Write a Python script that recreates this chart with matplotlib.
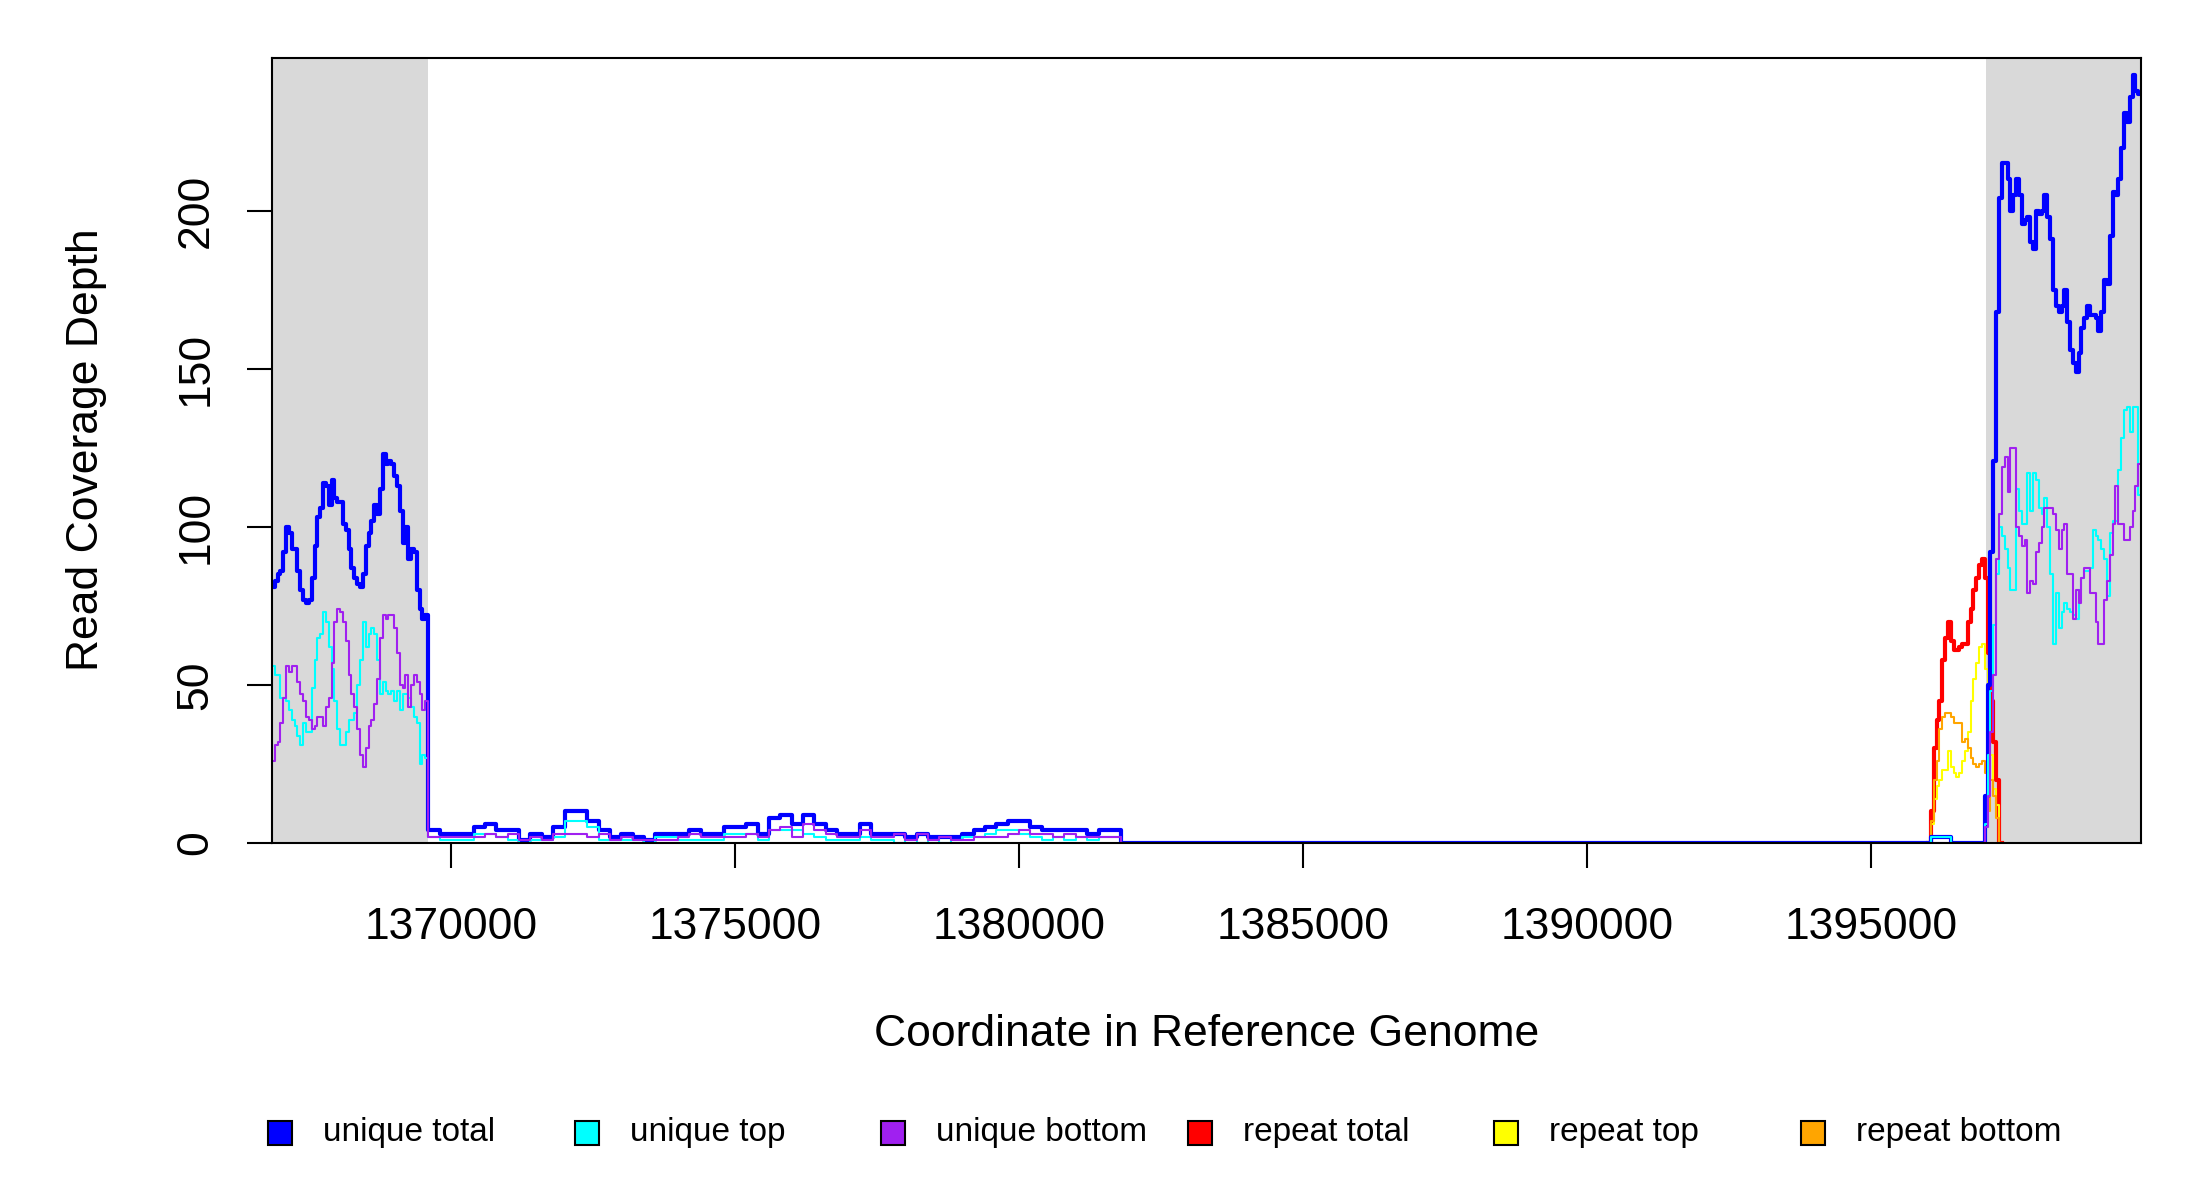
import numpy as np
import matplotlib.pyplot as plt
from matplotlib.patches import Rectangle

plt.rcParams['font.family'] = ['Liberation Sans', 'DejaVu Sans']

# =====================================================
# DATA
# =====================================================
X_MIN, X_MAX = 1366850, 1399750
Y_MAX = 248.5
SHADE_LEFT = (1366850, 1369595)
SHADE_RIGHT = (1397025, 1399750)
X_TICKS = [1370000, 1375000, 1380000, 1385000, 1390000, 1395000]
Y_TICKS = [0, 50, 100, 150, 200]

# left block: 50 bp bins
left_start, left_step = 1366850, 50
left_unique_total = [81, 83, 85, 86, 92, 100, 98, 93, 93, 86, 80, 77, 76, 77, 84,
                     94, 103, 106, 114, 113, 107, 115, 109, 108, 108, 101, 99, 93,
                     87, 84, 82, 81, 85, 94, 98, 102, 107, 104, 112, 123, 120, 121,
                     120, 116, 113, 105, 95, 100, 90, 93, 92, 80, 74, 71, 72]
left_unique_top = [56, 53, 53, 46, 46, 45, 42, 39, 37, 34, 31, 38, 35, 35, 49, 58,
                   65, 66, 73, 70, 62, 55, 45, 36, 31, 31, 35, 39, 39, 41, 50, 58,
                   70, 62, 66, 68, 66, 58, 47, 51, 48, 47, 48, 45, 48, 42, 47, 47,
                   46, 43, 40, 38, 25, 28, 27]
left_unique_bottom = [26, 31, 32, 38, 46, 56, 54, 56, 56, 51, 47, 45, 40, 39, 36,
                      37, 40, 40, 37, 43, 46, 57, 70, 74, 73, 70, 64, 53, 47, 43,
                      36, 28, 24, 30, 37, 39, 44, 52, 65, 72, 71, 72, 72, 68, 60,
                      50, 49, 53, 43, 50, 53, 51, 47, 42, 45]

# middle block: 200 bp bins, low coverage
mid_start, mid_step = 1369600, 200
mid_unique_total = [4, 3, 3, 3, 5, 6, 4, 4, 1, 3, 2, 5, 10, 10, 7, 4, 2, 3, 2, 1,
                    3, 3, 3, 4, 3, 3, 5, 5, 6, 3, 8, 9, 6, 9, 6, 4, 3, 3, 6, 3,
                    3, 3, 2, 3, 2, 2, 2, 3, 4, 5, 6, 7, 7, 5, 4, 4, 4, 4, 3, 4, 4]
mid_unique_top = [2, 1, 1, 1, 3, 3, 2, 1, 0, 1, 1, 2, 7, 7, 5, 1, 1, 1, 1, 0,
                  2, 2, 1, 1, 1, 1, 3, 3, 3, 1, 4, 4, 4, 3, 2, 1, 1, 1, 2, 1,
                  1, 0, 1, 0, 1, 0, 1, 2, 2, 3, 4, 4, 3, 2, 1, 2, 1, 2, 1, 2, 2]
mid_unique_bottom = [2, 2, 2, 2, 2, 3, 2, 3, 1, 2, 1, 3, 3, 3, 2, 3, 1, 2, 1, 1,
                     1, 1, 2, 3, 2, 2, 2, 2, 3, 2, 4, 5, 2, 6, 4, 3, 2, 2, 4, 2,
                     2, 3, 1, 3, 1, 2, 1, 1, 2, 2, 2, 3, 4, 3, 3, 2, 3, 2, 2, 2, 2]

# empty stretch between the blocks
gap_start, gap_end = 1381800, 1396000

# right block: 50 bp bins
right_start, right_step = 1396000, 50
right_unique_total = [0, 2, 2, 2, 2, 2, 2, 2, 0, 0, 0, 0, 0, 0, 0, 0, 0, 0, 0, 0,
                      15, 50, 92, 121, 168, 204, 215, 215, 210, 200, 205, 210, 205,
                      196, 197, 198, 190, 188, 200, 199, 200, 205, 198, 191, 175,
                      170, 168, 170, 175, 165, 156, 152, 149, 155, 163, 166, 170,
                      167, 167, 166, 162, 168, 178, 177, 192, 206, 205, 210, 220,
                      231, 228, 236, 243, 238, 237]
right_unique_top = [0, 2, 2, 2, 2, 2, 2, 2, 0, 0, 0, 0, 0, 0, 0, 0, 0, 0, 0, 0,
                    6, 28, 48, 69, 85, 100, 97, 93, 87, 80, 80, 112, 105, 101, 101,
                    117, 105, 117, 115, 106, 104, 109, 100, 85, 63, 79, 68, 73, 76,
                    74, 73, 72, 71, 80, 84, 86, 86, 87, 99, 97, 96, 93, 90, 78, 98,
                    102, 102, 118, 128, 137, 138, 130, 138, 138, 110]
right_unique_bottom = [0, 0, 0, 0, 0, 0, 0, 0, 0, 0, 0, 0, 0, 0, 0, 0, 0, 0, 0, 0,
                       5, 15, 35, 53, 90, 104, 119, 122, 111, 125, 125, 100, 97, 94,
                       96, 79, 83, 82, 92, 95, 100, 106, 106, 106, 104, 99, 93, 99,
                       101, 85, 85, 71, 80, 76, 84, 87, 87, 79, 79, 70, 63, 63, 77,
                       83, 91, 101, 113, 101, 101, 96, 96, 100, 105, 113, 120]
right_repeat_total = [0, 10, 30, 39, 45, 58, 65, 70, 64, 61, 61, 62, 63, 63, 70, 74,
                      80, 84, 88, 90, 84, 60, 45, 32, 20] + [0] * 50
right_repeat_top = [0, 6, 14, 18, 20, 23, 23, 29, 24, 22, 21, 22, 26, 29, 35, 45,
                    52, 57, 62, 63, 55, 35, 28, 17, 12] + [0] * 50
right_repeat_bottom = [0, 7, 20, 26, 36, 40, 41, 41, 40, 38, 38, 38, 32, 33, 30, 27,
                       25, 24, 25, 26, 22, 10, 20, 15, 8] + [0] * 50
REPEAT_TAIL = 25  # first bin of the flat zero tail after the repeat spike

# repeat reads are zero across the left and middle blocks
left_repeat = [0] * len(left_unique_total)
mid_repeat = [0] * len(mid_unique_total)


def edges(start, step, n):
    return start + step * np.arange(n + 1)


def step_xy(blocks):
    xs, ys = [], []
    for e, v in blocks:
        xs.append(e[:-1])
        ys.append(np.asarray(v, dtype=float))
    last_e, last_v = blocks[-1]
    xs.append([last_e[-1]])
    ys.append([last_v[-1]])
    return np.concatenate(xs), np.concatenate(ys)


e_left = edges(left_start, left_step, len(left_unique_total))
e_mid = edges(mid_start, mid_step, len(mid_unique_total))
e_gap = np.array([gap_start, gap_end])
e_right = edges(right_start, right_step, len(right_unique_total))

# =====================================================
# PLOT
# =====================================================
fig = plt.figure(figsize=(11, 6), dpi=200)
ax = fig.add_axes([0.1236, 0.2975, 0.9732 - 0.1236, 0.952 - 0.2975])

ax.axvspan(*SHADE_LEFT, color="#D9D9D9", lw=0, zorder=0)
ax.axvspan(*SHADE_RIGHT, color="#D9D9D9", lw=0, zorder=0)

repeat_series = [
    (left_repeat, mid_repeat, right_repeat_total, "#FF0000", 1.5),
    (left_repeat, mid_repeat, right_repeat_top, "#FFFF00", 0.75),
    (left_repeat, mid_repeat, right_repeat_bottom, "#FFA500", 0.75),
]
for lv, mv, rv, col, lw in repeat_series:
    # flat zero stretches use equal widths so orange (drawn last) stays on top
    x, y = step_xy([(e_left, lv), (e_mid, mv)])
    ax.step(x, y, where="post", color=col, lw=1.0, zorder=2)
    x, y = step_xy([(e_right[:REPEAT_TAIL + 2], rv[:REPEAT_TAIL + 1])])
    ax.step(x, y, where="post", color=col, lw=lw, zorder=2)
    x, y = step_xy([(e_right[REPEAT_TAIL + 1:], rv[REPEAT_TAIL + 1:])])
    ax.step(x, y, where="post", color=col, lw=1.0, zorder=2)

unique_series = [
    (left_unique_total, mid_unique_total, right_unique_total, "#0000FF", 1.5),
    (left_unique_top, mid_unique_top, right_unique_top, "#00FFFF", 0.75),
    (left_unique_bottom, mid_unique_bottom, right_unique_bottom, "#A020F0", 0.75),
]
for lv, mv, rv, col, lw in unique_series:
    x, y = step_xy([(e_left, lv), (e_mid, mv), (e_gap, [0]), (e_right, rv)])
    ax.step(x, y, where="post", color=col, lw=lw, zorder=3)

ax.set_xlim(X_MIN, X_MAX)
ax.set_ylim(0, Y_MAX)
ax.set_xticks(X_TICKS)
ax.set_xticklabels([str(t) for t in X_TICKS])
ax.set_yticks(Y_TICKS)
ax.set_yticklabels([str(t) for t in Y_TICKS], rotation=90, va="center")
ax.tick_params(axis="both", direction="out", length=9, width=0.75,
               labelsize=16, colors="black")
ax.tick_params(axis="x", pad=14)
ax.tick_params(axis="y", pad=11)
for sp in ax.spines.values():
    sp.set_linewidth(0.75)
    sp.set_zorder(5)

fig.text(0.5 * (0.1236 + 0.9732), 1 - 1034 / 1200, "Coordinate in Reference Genome",
         ha="center", va="center", fontsize=16)
fig.text(87 / 2200, 1 - 450 / 1200, "Read Coverage Depth", rotation=90,
         ha="center", va="center", fontsize=16)

# =====================================================
# LEGEND (single row, evenly spaced like R's horiz legend)
# =====================================================
legend_labels = ["unique total", "unique top", "unique bottom",
                 "repeat total", "repeat top", "repeat bottom"]
legend_colors = ["#0000FF", "#00FFFF", "#A020F0", "#FF0000", "#FFFF00", "#FFA500"]
box = 24 / 2200
box_h = 24 / 1200
y_leg = 1 - 1133 / 1200
for i, (lab, col) in enumerate(zip(legend_labels, legend_colors)):
    x0 = (268 + i * 306.6) / 2200
    fig.add_artist(Rectangle((x0, y_leg - box_h / 2), box, box_h,
                             facecolor=col, edgecolor="black", lw=0.75,
                             transform=fig.transFigure))
    fig.text(x0 + 55 / 2200, y_leg, lab, ha="left", va="center", fontsize=12)

fig.savefig("out.png", dpi=200)
